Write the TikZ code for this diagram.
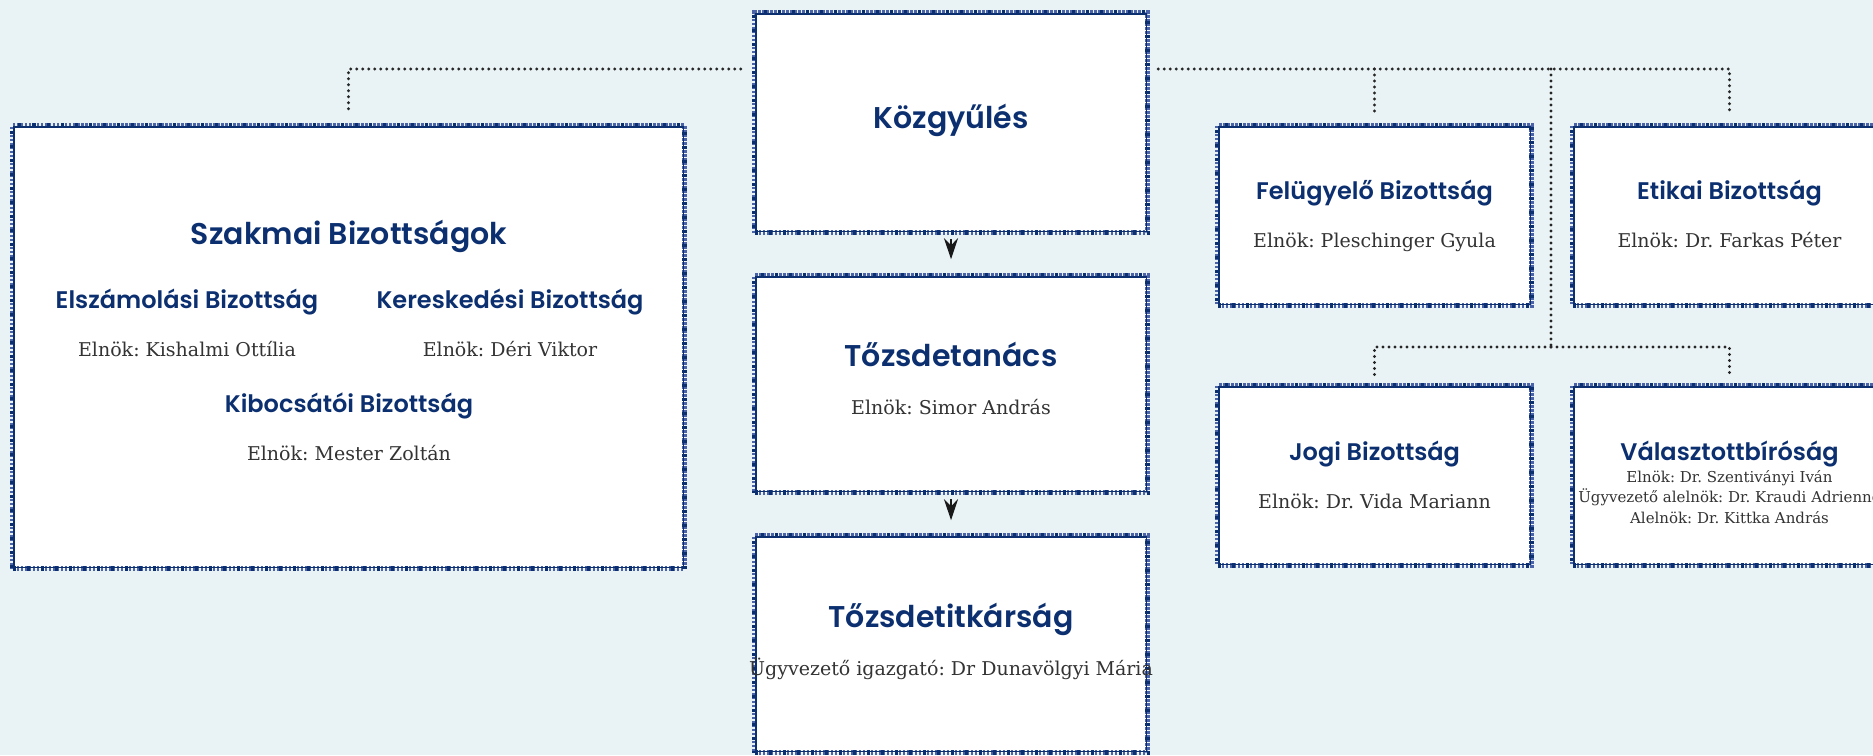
\documentclass[tikz,border=0pt]{standalone}
\usepackage{fontspec}
\setmainfont{DejaVu Serif}
\newfontfamily\headfont{Poppins}[UprightFont=* SemiBold]
\usepackage{tikz}
\usetikzlibrary{arrows.meta}
\definecolor{bg}{HTML}{E9F2F4}
\definecolor{navy}{HTML}{0B2F6F}
\definecolor{band}{HTML}{4A63A8}
\definecolor{ink}{HTML}{333333}
\frenchspacing

\begin{document}
\begin{tikzpicture}[x=1pt,y=-1pt,
  box/.style={rectangle, inner sep=0pt, preaction={fill=white}, draw=band, line width=5.5pt,
    dash pattern=on 2.5pt off 1.5pt, postaction={draw=navy, line width=5.5pt, dash pattern=on 3pt off 11pt}},
  big/.style={anchor=base, text=navy, font=\headfont\fontsize{30}{36}\selectfont},
  sub/.style={anchor=base, text=navy, font=\headfont\fontsize{24}{29}\selectfont},
  txt/.style={anchor=base, text=ink, font=\fontsize{19}{23}\selectfont},
  small/.style={anchor=base, text=ink, font=\fontsize{15}{18}\selectfont},
  link/.style={draw=black!85, line width=3.2pt, line cap=round, dash pattern=on 0pt off 6pt},
  arr/.style={-{Stealth[length=21pt,width=14pt,inset=7pt]}, draw=black!90, line width=1.5pt}]
\fill[bg] (0,0) rectangle (1873,755);
\useasboundingbox (0,0) rectangle (1873,755);

\node[box, minimum width=393pt, minimum height=220pt] (kozgy) at (951,122.5) {};
\node[box, minimum width=393pt, minimum height=217pt] (tanacs) at (951,384) {};
\node[box, minimum width=393pt, minimum height=217pt] (titkar) at (951,644) {};
\node[box, minimum width=672pt, minimum height=443pt] (szakmai) at (348.5,347) {};
\node[box, minimum width=314pt, minimum height=180pt] (felugy) at (1374.5,215.5) {};
\node[box, minimum width=314pt, minimum height=180pt] (etikai) at (1729.5,215.5) {};
\node[box, minimum width=314pt, minimum height=180pt] (jogi) at (1374.5,475.5) {};
\node[box, minimum width=314pt, minimum height=180pt] (valaszt) at (1729.5,475.5) {};
\foreach \b in {kozgy,tanacs,titkar,szakmai,felugy,etikai,jogi,valaszt}
  \draw[navy, line width=1.5pt] ([xshift=4pt,yshift=-4pt]\b.north west) rectangle ([xshift=-4pt,yshift=4pt]\b.south east);

\node[big] (kozgy-t) at (951,128) {Közgyűlés};
\node[big] (tanacs-t) at (951,366) {Tőzsdetanács};
\node[txt] (tanacs-e) at (951,414) {Elnök: Simor András};
\node[big] (titkar-t) at (951,627) {Tőzsdetitkárság};
\node[txt] (titkar-e) at (951,675) {Ügyvezető igazgató: Dr Dunavölgyi Mária};

\node[big] (szakmai-t) at (349,244) {Szakmai Bizottságok};
\node[sub] (elszam-t) at (187,308) {Elszámolási Bizottság};
\node[txt] (elszam-e) at (187,356) {Elnök: Kishalmi Ottília};
\node[sub] (keresk-t) at (510,308) {Kereskedési Bizottság};
\node[txt] (keresk-e) at (510,356) {Elnök: Déri Viktor};
\node[sub] (kibocs-t) at (349,412) {Kibocsátói Bizottság};
\node[txt] (kibocs-e) at (349,460) {Elnök: Mester Zoltán};

\node[sub] (felugy-t) at (1374.5,199) {Felügyelő Bizottság};
\node[txt] (felugy-e) at (1374.5,247) {Elnök: Pleschinger Gyula};
\node[sub] (etikai-t) at (1729.5,199) {Etikai Bizottság};
\node[txt] (etikai-e) at (1729.5,247) {Elnök: Dr. Farkas Péter};
\node[sub] (jogi-t) at (1374.5,460) {Jogi Bizottság};
\node[txt] (jogi-e) at (1374.5,508) {Elnök: Dr. Vida Mariann};
\node[sub] (valaszt-t) at (1729.5,460) {Választottbíróság};
\node[small] (valaszt-e1) at (1729.5,482) {Elnök: Dr. Szentiványi Iván};
\node[small] (valaszt-e2) at (1729.5,502) {Ügyvezető alelnök: Dr. Kraudi Adrienne};
\node[small] (valaszt-e3) at (1729.5,523) {Alelnök: Dr. Kittka András};

\draw[arr, shorten <=4pt, shorten >=13.5pt] (kozgy.south) -- (tanacs.north);
\draw[arr, shorten <=4pt, shorten >=12.5pt] (tanacs.south) -- (titkar.north);

\coordinate (bus) at (951,69);
\coordinate (split) at (1551,347);
\draw[link, shorten <=11pt, shorten >=11.5pt] (kozgy.west |- bus) -| (szakmai.north);
\draw[link, shorten <=8pt, shorten >=9.5pt] (kozgy.east |- bus) -| (etikai.north);
\draw[link, shorten >=9.5pt] (felugy.north |- bus) -- (felugy.north);
\draw[link] (split |- bus) -- (split);
\draw[link, shorten >=7.5pt] (split) -| (jogi.north);
\draw[link, shorten >=7.5pt] (split) -| (valaszt.north);
\end{tikzpicture}
\end{document}
